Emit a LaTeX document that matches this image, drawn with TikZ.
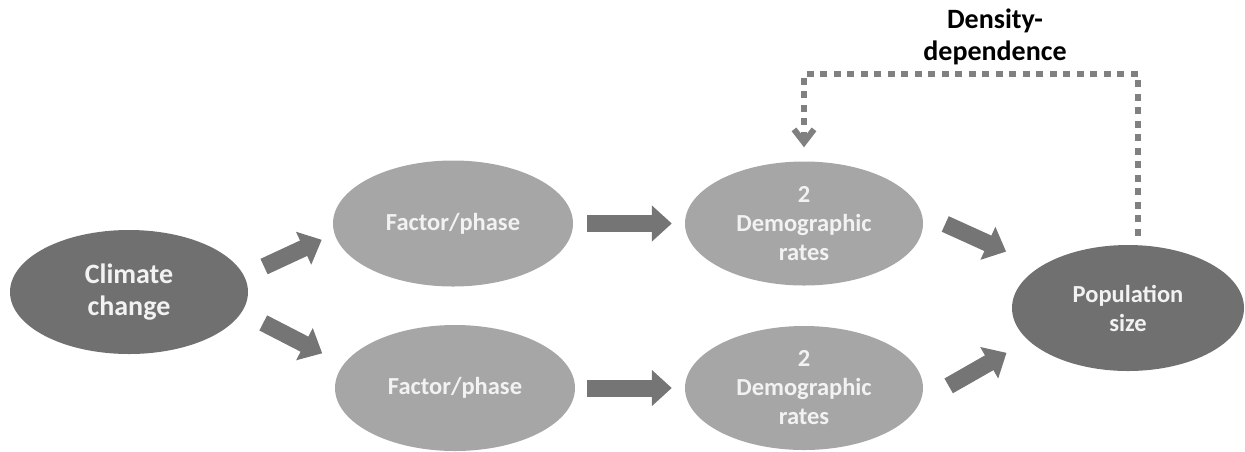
\documentclass[tikz,border=0pt]{standalone}
\usepackage{fontspec}
\setmainfont{Carlito}
\usetikzlibrary{shapes.geometric,arrows.meta,calc}
\definecolor{darkell}{RGB}{112,112,112}
\definecolor{lightell}{RGB}{166,166,166}
\definecolor{arrowgray}{RGB}{117,117,117}
\definecolor{dashgray}{RGB}{128,128,128}
\definecolor{ltext}{RGB}{242,242,242}
\begin{document}
\begin{tikzpicture}[x=1pt,y=-1pt,
  ell/.style={ellipse,inner sep=0pt,align=center,text=ltext,font=\bfseries\fontsize{24.5}{29}\selectfont},
  darkellipse/.style={ell,fill=darkell},
  lightellipse/.style={ell,fill=lightell},
  blockarrow/.style={draw=arrowgray,line width=17pt,-{Triangle[length=20pt,width=35pt]}},
  feedback/.style={draw=dashgray,line width=6.5pt,dash pattern=on 7pt off 6.5pt,-{Straight Barb[length=13pt,width=20pt,line width=6pt]}}]
\useasboundingbox (0,0) rectangle (1245,451);

\node[darkellipse,minimum width=238pt,minimum height=124pt,font=\bfseries\fontsize{28}{32}\selectfont] (cc) at (129,292) {Climate\\change};
\node[lightellipse,minimum width=240pt,minimum height=126pt] (f1) at (453,223.5) {Factor/phase};
\node[lightellipse,minimum width=240pt,minimum height=126pt] (f2) at (455,388) {Factor/phase};
\node[lightellipse,minimum width=238pt,minimum height=124pt] (d1) at (804,223.5) {2\\Demographic\\rates};
\node[lightellipse,minimum width=238pt,minimum height=124pt] (d2) at (804,388) {2\\Demographic\\rates};
\node[darkellipse,minimum width=232pt,minimum height=126pt] (pop) at (1128,308) {Population\\size};
\node[font=\bfseries\fontsize{28}{32}\selectfont,align=center,text=black] (dd) at (995,37) {Density-\\dependence};

\draw[blockarrow,shorten <=22pt,shorten >=14pt] (cc.8) -- (f1.185);
\draw[blockarrow,shorten <=24pt,shorten >=24pt] (cc.-10) -- (f2.168);
\draw[blockarrow,shorten <=14pt,shorten >=13pt] (f1.east) -- (d1.west);
\draw[blockarrow,shorten <=12pt,shorten >=13pt] (f2.east) -- (d2.west);
\draw[blockarrow,shorten <=26pt,shorten >=37pt] (d1.5) -- (pop.155);
\draw[blockarrow,shorten <=33pt,shorten >=25pt] (d2.-7) -- (pop.198);

\coordinate (fbtop) at (1000,74);
\draw[feedback,shorten <=9pt,shorten >=14pt] ([xshift=10pt]pop.north) |- (fbtop -| d1.north) -- (d1.north);
\end{tikzpicture}
\end{document}
